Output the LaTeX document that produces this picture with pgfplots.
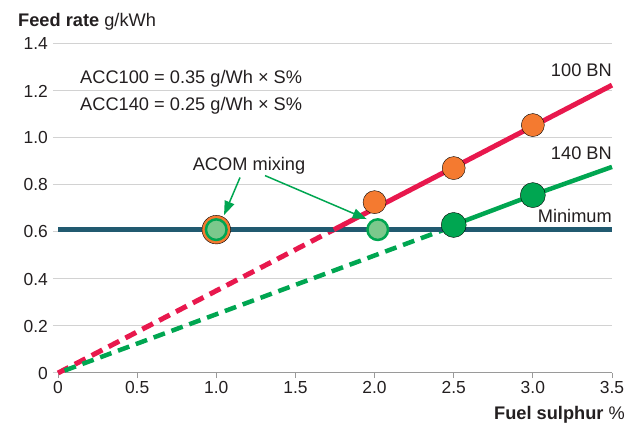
\documentclass[border=0pt]{standalone}
\usepackage{pgfplots}
\pgfplotsset{compat=1.18}
\usepackage{fontspec}
\setmainfont{Liberation Sans}
\usetikzlibrary{arrows.meta}
\definecolor{redl}{HTML}{E8184D}
\definecolor{orng}{HTML}{F47A30}
\definecolor{grn}{HTML}{00A651}
\definecolor{lgrn}{HTML}{7CC88C}
\definecolor{teal}{HTML}{215A70}
\definecolor{gridc}{HTML}{D2D2D2}
\definecolor{txt}{HTML}{231F20}
\definecolor{axc}{HTML}{9A9A9A}
\begin{document}
\begin{tikzpicture}
\begin{axis}[
  at={(0,0)}, anchor=south west,
  scale only axis, width=554bp, height=329bp,
  xmin=0, xmax=3.5, ymin=0, ymax=1.4,
  axis x line*=bottom, axis y line*=left,
  x axis line style={color=axc, line width=1bp, -},
  y axis line style={draw=none},
  xtick={0,0.5,1,1.5,2,2.5,3,3.5},
  xticklabels={0,0.5,1.0,1.5,2.0,2.5,3.0,3.5},
  ytick={0,0.2,0.4,0.6,0.8,1.0,1.2,1.4},
  yticklabels={0,0.2,0.4,0.6,0.8,1.0,1.2,1.4},
  tick align=outside, major tick length=5bp,
  xtick style={color=axc, line width=1bp},
  ytick style={color=gridc, line width=1bp},
  ymajorgrids, grid style={color=gridc, line width=1bp},
  xticklabel style={font=\fontsize{17.5}{20}\selectfont, text=txt, inner sep=2bp, yshift=-1bp},
  yticklabel style={font=\fontsize{17.5}{20}\selectfont, text=txt, inner sep=2bp, xshift=-3bp},
  clip=false,
]
% text box
\node[fill=white, inner sep=0pt, minimum width=0pt] at (axis cs:0.86,1.18) {\rule{0pt}{50bp}\hspace{250bp}};
\node[anchor=base west, text=txt, font=\fontsize{18.3}{21}\selectfont, inner sep=0pt] at (axis cs:0.139,1.23) {ACC100 = 0.35 g/Wh × S\%};
\node[anchor=base west, text=txt, font=\fontsize{18.3}{21}\selectfont, inner sep=0pt] at (axis cs:0.139,1.116) {ACC140 = 0.25 g/Wh × S\%};
% dashed parts
\addplot[redl, line width=5bp, dash pattern=on 12bp off 7bp] coordinates {(0,0) (1.743,0.61)};
\addplot[grn, line width=4.5bp, dash pattern=on 12bp off 7bp, dash phase=12bp] coordinates {(0,0) (2.5,0.625)};
% minimum
\addplot[teal, line width=5bp] coordinates {(0,0.61) (3.5,0.61)};
% solid parts
\addplot[redl, line width=5bp] coordinates {(1.743,0.61) (3.5,1.225)};
\addplot[grn, line width=4.5bp] coordinates {(2.5,0.63) (3.0,0.757) (3.5,0.877)};
% markers
\addplot[only marks, mark=*, mark size=11.5bp, mark options={fill=orng, draw=none}] coordinates {(2.0,0.727) (2.5,0.872) (3.0,1.055)};
\addplot[only marks, mark=*, mark size=12.5bp, mark options={fill=grn, draw=none}] coordinates {(2.5,0.63) (3.0,0.757)};
\addplot[only marks, mark=*, mark size=14.3bp, mark options={fill=orng, draw=none}] coordinates {(1.0,0.61)};
\addplot[only marks, mark=*, mark size=10.3bp, mark options={fill=lgrn, draw=grn, line width=2.5bp}] coordinates {(1.0,0.61) (2.02,0.61)};
% labels
\node[anchor=base east, text=txt, font=\fontsize{18.3}{21}\selectfont, inner sep=0pt] at (axis cs:3.5,1.26) {100 BN};
\node[anchor=base east, text=txt, font=\fontsize{18.3}{21}\selectfont, inner sep=0pt] at (axis cs:3.5,0.908) {140 BN};
\node[anchor=base east, text=txt, font=\fontsize{18.3}{21}\selectfont, inner sep=0pt] at (axis cs:3.5,0.641) {Minimum};
\node[anchor=base, text=txt, font=\fontsize{18.3}{21}\selectfont, inner sep=0pt] at (axis cs:1.207,0.861) {ACOM mixing};
\draw[grn, line width=1.5bp, -{Triangle[length=14bp,width=10bp]}] (axis cs:1.15,0.832) -- (axis cs:1.049,0.672);
\draw[grn, line width=1.5bp, -{Triangle[length=14bp,width=10bp]}] (axis cs:1.308,0.84) -- (axis cs:1.95,0.655);
\end{axis}
\node[anchor=base west, text=txt, font=\fontsize{18.3}{21}\selectfont, inner sep=0pt] at (-40bp,346bp) {\textbf{Feed rate} g/kWh};
\node[anchor=base east, text=txt, font=\fontsize{18.3}{21}\selectfont, inner sep=0pt] at (567bp,-46bp) {\textbf{Fuel sulphur} \%};
\pgfresetboundingbox
\path[use as bounding box] (-58bp,-51bp) rectangle (574bp,373bp);
\end{tikzpicture}
\end{document}
